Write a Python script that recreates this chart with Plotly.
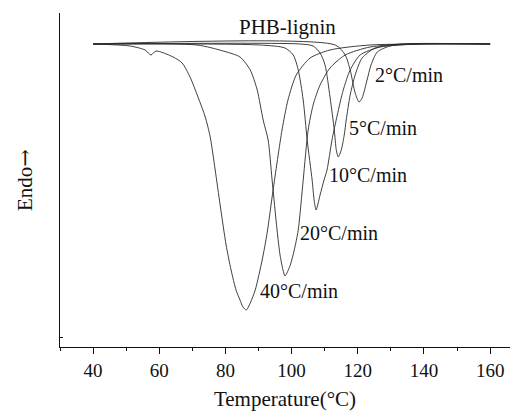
import plotly.graph_objects as go

# Temperature (°C) and heat flow (arbitrary units, endo up)
t_40 = [40, 51.2, 55.7, 57.5, 59.0, 64.2, 66.9, 69.3, 71.7, 73.9, 75.4, 76.9, 78.4, 80.2, 81.7, 83.2, 84.4, 85.3, 86.3,
        87.5, 89.0, 91.1, 92.6, 94.4, 97.1, 98.9, 101.4, 105.6, 111.6, 123.7, 160]
h_40 = [0, -0.2, -0.6, -1.1, -0.7, -1.3, -1.9, -3.3, -5.3, -7.3, -9.3, -12.6, -16.1, -20.1, -22.6, -24.6, -25.6, -26.3, -26.6,
        -25.9, -24.6, -21.6, -18.9, -14.6, -8.6, -5.6, -3.1, -1.4, -0.6, -0.1, 0]

t_20 = [40, 71.4, 79.3, 84.4, 87.5, 89.6, 91.4, 92.9, 94.1, 95.6, 96.5, 97.4, 98.0,
        99.6, 100.8, 102.0, 103.5, 105.0, 106.5, 108.6, 111.6, 116.2, 123.7, 135.8, 160]
h_20 = [0, -0.1, -0.7, -1.3, -2.6, -4.6, -7.6, -9.6, -13.6, -18.6, -21.1, -22.6, -23.2,
        -22.1, -20.6, -18.6, -13.6, -8.6, -6.1, -4.1, -2.4, -1.1, -0.3, 0, 0]

t_10 = [40, 90.5, 98.0, 100.5, 102.0, 103.5, 104.7, 106.2, 106.8, 107.4,
        108.6, 109.8, 110.7, 112.2, 113.8, 115.6, 117.7, 120.7, 126.8, 138.9, 160]
h_10 = [0, -0.1, -0.4, -1.1, -2.6, -5.6, -9.6, -13.6, -15.6, -16.6,
        -15.1, -13.6, -12.6, -9.6, -7.1, -4.6, -2.6, -1.1, -0.3, 0, 0]

t_5 = [40, 102.6, 106.5, 108.6, 110.1, 111.6, 112.9, 113.5, 114.1,
       115.0, 115.9, 116.5, 117.7, 119.2, 121.3, 125.2, 132.8, 160]
h_5 = [0, 0, -0.2, -0.9, -2.1, -5.3, -8.6, -10.6, -11.3,
       -10.6, -9.1, -7.6, -5.1, -3.1, -1.4, -0.4, 0, 0]

t_2 = [40, 113.2, 116.2, 117.7, 119.2, 120.4, 121.3, 122.8, 124.0, 125.9, 129.8, 138.9, 160]
h_2 = [0, -0.1, -1.1, -2.6, -4.9, -5.8, -5.4, -3.6, -2.1, -0.8, -0.2, 0, 0]

series = [(t_40, h_40, "40°C/min"), (t_20, h_20, "20°C/min"), (t_10, h_10, "10°C/min"),
          (t_5, h_5, "5°C/min"), (t_2, h_2, "2°C/min")]

# label anchor positions (data coords)
label_text = ["2°C/min", "5°C/min", "10°C/min", "20°C/min", "40°C/min"]
label_x = [124.6, 116.8, 110.7, 102.0, 89.9]
label_y = [-3.1, -8.4, -13.1, -18.9, -24.7]

x_ticks = [40, 60, 80, 100, 120, 140, 160]

fig = go.Figure()
for t, h, name in series:
    fig.add_trace(go.Scatter(x=t, y=h, mode="lines", name=name,
                             line=dict(color="#2a2a2a", width=0.9, shape="spline", smoothing=0.7),
                             showlegend=False, hoverinfo="skip"))

serif = "Liberation Serif, Times New Roman, serif"
tick_font = dict(family=serif, size=19, color="#111")
label_font = dict(family=serif, size=20, color="#111")
title_font = dict(family=serif, size=21, color="#111")

for txt, x, y in zip(label_text, label_x, label_y):
    fig.add_annotation(x=x, y=y, text=txt, showarrow=False, xanchor="left", yanchor="middle", font=label_font)

fig.add_annotation(x=98.9, y=1.7, text="PHB-lignin", showarrow=False, xanchor="center", yanchor="middle",
                   font=dict(family=serif, size=21, color="#111"))

fig.update_layout(
    width=510, height=413,
    margin=dict(l=60, r=0, t=13, b=66),
    paper_bgcolor="white", plot_bgcolor="white",
    font=tick_font,
    xaxis=dict(range=[30, 166], tickvals=x_ticks, ticks="outside", ticklen=6, tickwidth=1, tickcolor="#111",
               showline=True, linecolor="#111", linewidth=1.2, showgrid=False, zeroline=False,
               minor=dict(ticks="outside", ticklen=3, tickcolor="#111", dtick=10, tick0=0, showgrid=False),
               title=dict(text="Temperature(°C)", font=title_font, standoff=11), tickfont=tick_font),
    yaxis=dict(range=[-30.3, 3.1], tickvals=[-29.3], ticks="inside", ticklen=3, tickcolor="#111",
               showticklabels=False, showline=True, linecolor="#111", linewidth=1.2,
               showgrid=False, zeroline=False,
               title=dict(text="Endo<span style='font-family:DejaVu Serif'>→</span>", font=title_font, standoff=20)),
)

fig.write_html("out.html")
